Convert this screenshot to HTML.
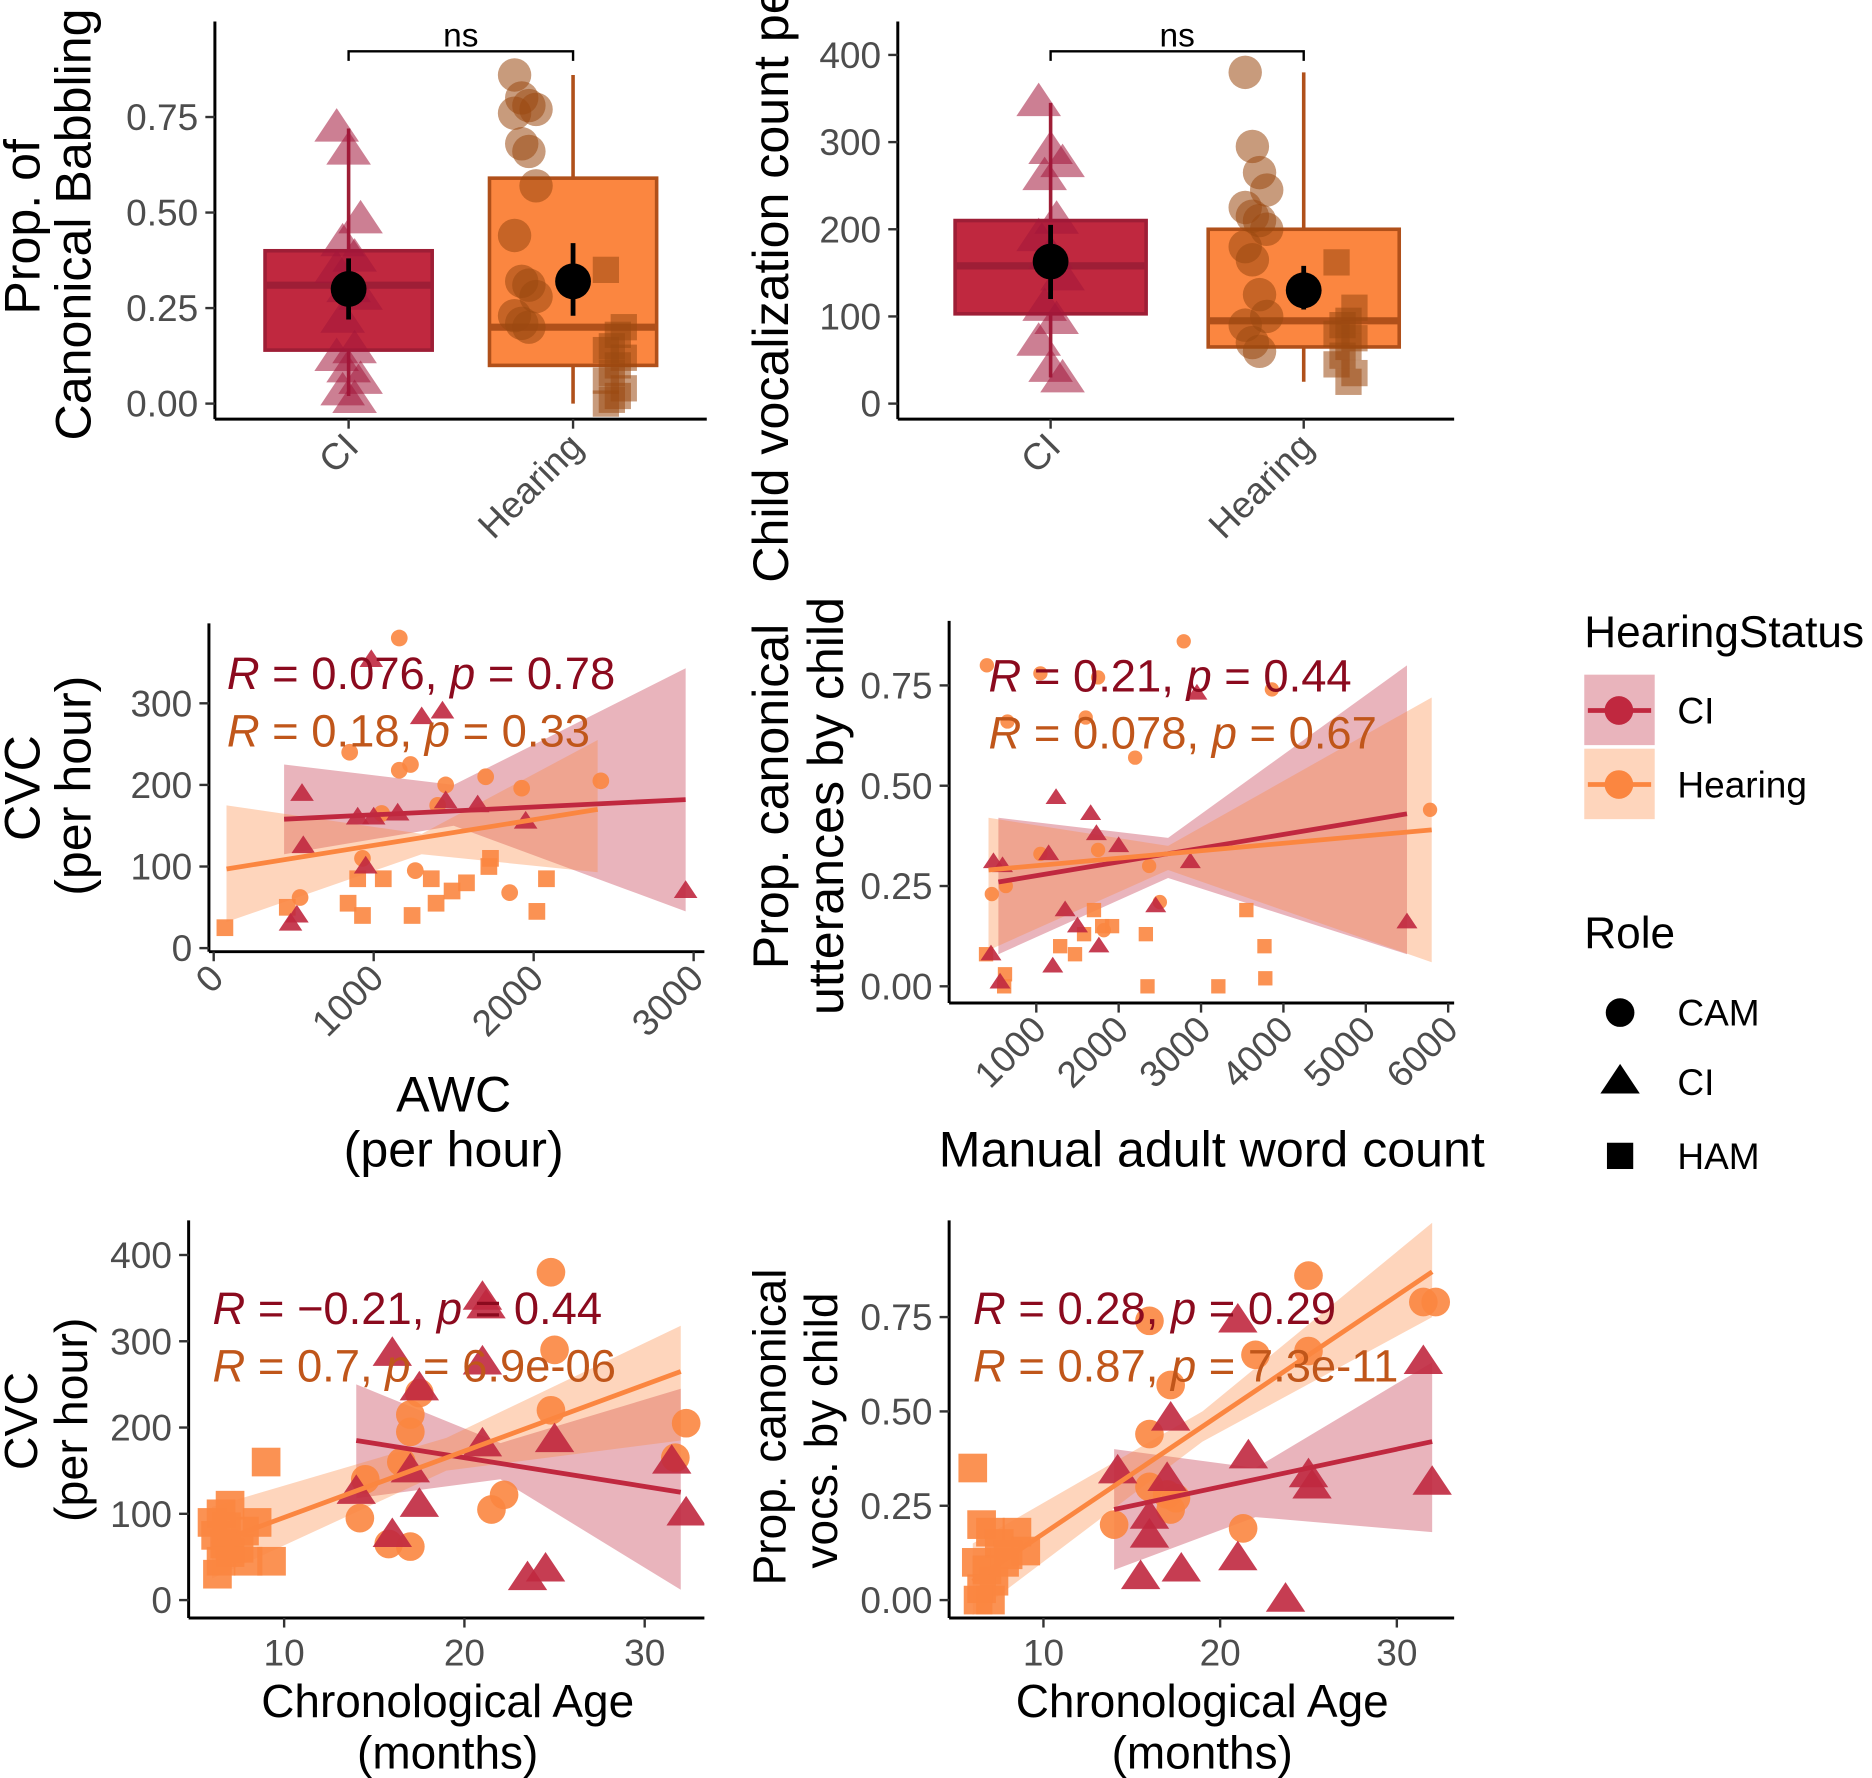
<!DOCTYPE html>
<html><head><meta charset="utf-8"><style>
html,body{margin:0;padding:0;background:#fff}
svg{display:block}
text{font-family:"Liberation Sans",Arial,sans-serif}
</style></head><body>
<svg id="s" width="1872" height="1778" viewBox="0 0 1568 1489" preserveAspectRatio="none" xmlns="http://www.w3.org/2000/svg"></svg>
<script>
// ---------- DATA ----------
const p1Cats=["CI","Hearing"];
const p1Ticks=[0,0.25,0.5,0.75];
const p1TickLabels=["0.00","0.25","0.50","0.75"];
const p1Box=[[0.02,0.14,0.31,0.40,0.72],[0.0,0.10,0.20,0.59,0.86]];
const p1Mean=[[0.30,0.22,0.38],[0.32,0.23,0.42]];
const p1CI=[0.72,0.66,0.48,0.42,0.38,0.35,0.30,0.28,0.22,0.14,0.12,0.09,0.06,0.03,0.01];
const p1CAM=[0.86,0.80,0.78,0.77,0.76,0.68,0.66,0.57,0.44,0.32,0.31,0.28,0.23,0.21,0.20];
const p1HAM=[0.35,0.20,0.18,0.15,0.14,0.12,0.10,0.08,0.06,0.04,0.02,0.01,0.0];
const p2Ticks=[0,100,200,300,400];
const p2Box=[[30,103,158,210,345],[25,65,95,200,380]];
const p2Mean=[[163,120,205],[130,108,158]];
const p2CI=[345,290,275,260,210,190,170,145,110,95,70,40,28];
const p2CAM=[380,295,265,245,225,215,210,200,180,165,125,100,90,70,60];
const p2HAM=[162,110,95,90,80,75,65,55,45,35,25];
const p3XTicks=[0,1000,2000,3000];
const p3YTicks=[0,100,200,300];
const p3CIx=[985,1300,1430,552,560,480,520,900,1000,1150,950,1450,1650,1950,2950];
const p3CIy=[353,283,290,189,125,30,40,160,160,165,100,180,175,155,70];
const p3CAMx=[1160,850,1230,1160,1050,1400,1450,1700,1925,2420,1260,540,1850,930];
const p3CAMy=[380,240,225,218,165,175,200,210,196,205,95,62,68,110];
const p3HAMx=[70,460,840,900,930,1060,1240,1390,1360,1490,1580,1720,1730,2020,2080];
const p3HAMy=[25,50,55,85,40,85,40,55,85,70,80,100,110,45,85];
const p3LineCI=[[440,158],[2950,182]];
const p3LineH=[[80,97],[2400,170]];
const p3RibCIx=[440,1500,2950];const p3RibCIlo=[115,150,45];const p3RibCIhi=[225,200,343];
const p3RibHx=[80,1300,2400];const p3RibHlo=[32,115,93];const p3RibHhi=[175,140,255];
const p4XTicks=[1000,2000,3000,4000,5000,6000];
const p4YTicks=[0,0.25,0.5,0.75];
const p4CIx=[2950,1240,1660,1730,480,590,2000,2450,2870,1150,450,560,1500,1200,1760,5500,1350];
const p4CIy=[0.73,0.47,0.43,0.38,0.31,0.30,0.35,0.20,0.31,0.33,0.08,0.01,0.15,0.05,0.10,0.16,0.19];
const p4CAMx=[400,1050,1750,2790,3860,650,1600,2200,5780,460,630,1050,1750,2370,2500,1820];
const p4CAMy=[0.80,0.78,0.77,0.86,0.74,0.66,0.67,0.57,0.44,0.23,0.25,0.33,0.34,0.30,0.21,0.14];
const p4HAMx=[390,610,620,1290,1470,1580,1700,1800,1920,2330,2350,3210,3550,3770,3780];
const p4HAMy=[0.08,0.0,0.03,0.10,0.08,0.13,0.19,0.15,0.15,0.13,0.0,0.0,0.19,0.10,0.02];
const p4LineCI=[[540,0.26],[5500,0.43]];
const p4LineH=[[420,0.29],[5800,0.39]];
const p4RibCIx=[540,2600,5500];const p4RibCIlo=[0.08,0.27,0.08];const p4RibCIhi=[0.42,0.37,0.80];
const p4RibHx=[420,2600,5800];const p4RibHlo=[0.09,0.29,0.06];const p4RibHhi=[0.42,0.35,0.72];
const p5XTicks=[10,20,30];
const p5YTicks=[0,100,200,300,400];
const p5CIx=[21,21.2,16,21,17.5,25,14,17,21,17.5,16,23.5,24.5,32.3,31.5];
const p5CIy=[350,340,285,275,245,185,125,150,180,110,75,25,35,100,160];
const p5CAMx=[24.8,25,24.8,17,17,16.5,14.5,14.2,15.8,17,21.5,22.2,31.7,32.3,17.5];
const p5CAMy=[380,290,220,215,195,160,140,95,65,62,105,122,165,205,240];
const p5HAMx=[9,9.3,8.5,7,6.5,6,6.2,6.7,7,6.5,6.3,7.5,8,7.8,6.8];
const p5HAMy=[160,45,90,110,100,90,75,65,55,45,30,60,45,80,85];
const p5LineCI=[[14,185],[32,125]];
const p5LineH=[[6,65],[32,265]];
const p5RibCIx=[14,22,32];const p5RibCIlo=[118,140,12];const p5RibCIhi=[250,182,245];
const p5RibHx=[6,19,32];const p5RibHlo=[25,150,185];const p5RibHhi=[108,188,318];
const p6XTicks=[10,20,30];
const p6YTicks=[0,0.25,0.5,0.75];
const p6CIx=[21,31.5,32,25,25.2,21.6,17.2,14.2,16,16,17.8,15.5,21,23.7,17];
const p6CIy=[0.74,0.63,0.31,0.33,0.30,0.38,0.48,0.34,0.22,0.17,0.08,0.06,0.11,0.0,0.32];
const p6CAMx=[25,31.5,32.2,22,25,17.2,16,17,17.2,16,14,21.3,17.5,16];
const p6CAMy=[0.86,0.79,0.79,0.65,0.66,0.57,0.44,0.28,0.24,0.30,0.20,0.19,0.27,0.74];
const p6HAMx=[6,6.5,7,7.5,8,6.2,6.8,7.2,6.5,7,8.5,9,6.3,7.8];
const p6HAMy=[0.35,0.20,0.18,0.15,0.12,0.10,0.08,0.05,0.03,0.0,0.18,0.13,0.0,0.10];
const p6LineCI=[[14,0.24],[32,0.42]];
const p6LineH=[[6,0.05],[32,0.87]];
const p6RibCIx=[14,22,32];const p6RibCIlo=[0.08,0.22,0.18];const p6RibCIhi=[0.40,0.35,0.63];
const p6RibHx=[6,19,32];const p6RibHlo=[-0.04,0.42,0.75];const p6RibHhi=[0.15,0.50,1.0];

// ---------- HELPERS ----------
const S=document.getElementById('s');const NS='http://www.w3.org/2000/svg';
function el(tag,attrs,parent,txt){const e=document.createElementNS(NS,tag);for(const k in attrs)e.setAttribute(k,attrs[k]);if(txt!==undefined)e.textContent=txt;(parent||S).appendChild(e);return e;}
function lin(d0,d1,r0,r1){return v=>r0+(v-d0)*(r1-r0)/(d1-d0);}
const RED='#c0283f',REDD='#9e1e36',ORG='#fb8640',ORGD='#b0501a';
const TRI='#a3153a',CIRC='#9a4810';
const TXT='#4d4d4d';
const TF=31, AF=42;
function tri(x,y,r,fill,op,g){return el('polygon',{points:`${x},${y-r} ${x-r*1.1},${y+r*0.65} ${x+r*1.1},${y+r*0.65}`,fill:fill,'fill-opacity':op},g);}
function circ(x,y,r,fill,op,g){return el('circle',{cx:x,cy:y,r:r,fill:fill,'fill-opacity':op},g);}
function sq(x,y,r,fill,op,g){return el('rect',{x:x-r,y:y-r,width:2*r,height:2*r,fill:fill,'fill-opacity':op},g);}
function yAxis(ax,y0,y1,ticks,labels,sy,g){
  el('line',{x1:ax,y1:y0,x2:ax,y2:y1,stroke:'#000','stroke-width':2.5},g);
  ticks.forEach((t,i)=>{const y=sy(t);el('line',{x1:ax-8,y1:y,x2:ax,y2:y,stroke:'#333','stroke-width':2},g);
    const tl=el('text',{x:ax-14,y:y+11,'text-anchor':'end','font-size':TF,fill:TXT},g,labels[i]);
    
    });
}
function xAxis(ay,x0,x1,ticks,labels,sx,g,rot){
  el('line',{x1:x0,y1:ay,x2:x1,y2:ay,stroke:'#000','stroke-width':2.5},g);
  ticks.forEach((t,i)=>{const x=sx(t);el('line',{x1:x,y1:ay,x2:x,y2:ay+8,stroke:'#333','stroke-width':2},g);
    let tl;
    if(rot) tl=el('text',{x:x+10,y:ay+24,'text-anchor':'end','font-size':TF,fill:TXT,transform:`rotate(-45 ${x+10} ${ay+24})`},g,labels[i]);
    else tl=el('text',{x:x,y:ay+40,'text-anchor':'middle','font-size':TF,fill:TXT},g,labels[i]);
    
    });
}
function vlabel(x,y,txt,name,g,fs){const t=el('text',{x:x,y:y,'text-anchor':'middle','font-size':fs||AF,fill:'#000',transform:`rotate(-90 ${x} ${y})`},g,txt);
  
  return t;}
function hlabel(x,y,txt,name,g,fs){const t=el('text',{x:x,y:y,'text-anchor':'middle','font-size':fs||AF,fill:'#000'},g,txt);
  
  return t;}

// ---------- BOX PANELS ----------
function boxPanel(cfg){
  const g=el('g',{});
  
  
  const sy=cfg.sy;
  const bx0=cfg.cx[0],bx1=cfg.cx[1];
  el('path',{d:`M${bx0} 51 V43 H${bx1} V51`,fill:'none',stroke:'#000','stroke-width':2},g);
  const ns=el('text',{x:(bx0+bx1)/2,y:39,'text-anchor':'middle','font-size':28},g,'ns');
  
  
  const fills=[RED,ORG],strokes=[REDD,ORGD];
  cfg.box.forEach((b,i)=>{
    const cx=cfg.cx[i],hw=cfg.hw;
    const w=el('line',{x1:cx,y1:sy(b[0]),x2:cx,y2:sy(b[4]),stroke:strokes[i],'stroke-width':3},g);
    
    
    const r=el('rect',{x:cx-hw,y:sy(b[3]),width:2*hw,height:sy(b[1])-sy(b[3]),fill:fills[i],stroke:strokes[i],'stroke-width':3},g);
    
    
    el('line',{x1:cx-hw,y1:sy(b[2]),x2:cx+hw,y2:sy(b[2]),stroke:strokes[i],'stroke-width':6},g);
  });
  const ci=cfg.cx[0];
  cfg.ciPts.forEach((v,i)=>{const t=tri(ci+((i*7)%5-2)*5,sy(v),17,TRI,0.55,g);
    
    });
  cfg.camPts.forEach((v,i)=>{const c=circ(cfg.cx[1]-40+((i*5)%4-1.5)*6,sy(v),14,CIRC,0.55,g);
    
    });
  cfg.hamPts.forEach((v,i)=>{const s=sq(cfg.cx[1]+35+((i*3)%4-1.5)*5,sy(v),11,CIRC,0.55,g);
    
    });
  cfg.mean.forEach((m,i)=>{const cx=cfg.cx[i];
    el('line',{x1:cx,y1:sy(m[1]),x2:cx,y2:sy(m[2]),stroke:'#000','stroke-width':4},g);
    const c=circ(cx,sy(m[0]),15,'#000',1,g);
    
    });
  yAxis(cfg.ax,18,351,cfg.ticks,cfg.tickLabels,sy,g);
  el('line',{x1:cfg.ax,y1:351,x2:cfg.axEnd,y2:351,stroke:'#000','stroke-width':2.5},g);
  cfg.cats.forEach((c,i)=>{const x=cfg.cx[i];el('line',{x1:x,y1:351,x2:x,y2:359,stroke:'#333','stroke-width':2},g);
    const t=el('text',{x:x+10,y:376,'text-anchor':'end','font-size':TF,fill:TXT,transform:`rotate(-45 ${x+10} 376)`},g,c);
    
    });
  return g;
}
const g1=boxPanel({name:'panel-canonical-babbling-box',cats:p1Cats,cx:[292,480],hw:70,ax:180,axEnd:592,sy:lin(0,0.75,338,98),
  box:p1Box,mean:p1Mean,ciPts:p1CI,camPts:p1CAM,hamPts:p1HAM,ticks:p1Ticks,tickLabels:p1TickLabels});
vlabel(33,190,'Prop. of','y-axis-title',g1);vlabel(76,188,'Canonical Babbling','y-axis-title',g1);
const g2=boxPanel({name:'panel-vocalization-count-box',cats:p1Cats,cx:[880,1092],hw:80,ax:752,axEnd:1218,sy:lin(0,400,338,46),
  box:p2Box,mean:p2Mean,ciPts:p2CI,camPts:p2CAM,hamPts:p2HAM,ticks:p2Ticks,tickLabels:p2Ticks.map(String)});
{const t=el('text',{x:660,y:488,'text-anchor':'start','font-size':AF,transform:'rotate(-90 660 488)'},g2,'Child vocalization count per hour');

}

// ---------- SCATTER PANELS ----------
function scatterPanel(c){
  const g=el('g',{});
  
  
  const sx=c.sx,sy=c.sy;
  const clip=el('clipPath',{id:'clip'+c.id},g);el('rect',{x:c.ax,y:c.top,width:c.axEnd-c.ax,height:c.ay-c.top},clip);
  const pg=el('g',{'clip-path':`url(#clip${c.id})`},g);
  function rib(xs,lo,hi,col,name){let d='M'+xs.map((x,i)=>sx(x)+' '+sy(hi[i])).join(' L');
    d+=' L'+xs.slice().reverse().map((x,i)=>sx(x)+' '+sy(lo[lo.length-1-i])).join(' L')+'Z';
    const p=el('path',{d:d,fill:col,'fill-opacity':0.35},pg);
    
    }
  rib(c.ribCIx,c.ribCIlo,c.ribCIhi,'#c0283f','ci-confidence-band');
  rib(c.ribHx,c.ribHlo,c.ribHhi,'#fb8640','hearing-confidence-band');
  const o=c.mk;
  c.hamX.forEach((x,i)=>{const s=sq(sx(x),sy(c.hamY[i]),o.s,ORG,0.9,pg);
    
    });
  c.camX.forEach((x,i)=>{const e=circ(sx(x),sy(c.camY[i]),o.c,ORG,0.9,pg);
    
    });
  c.ciX.forEach((x,i)=>{const t=tri(sx(x),sy(c.ciY[i]),o.t,RED,0.9,pg);
    
    });
  const l1=el('line',{x1:sx(c.lineCI[0][0]),y1:sy(c.lineCI[0][1]),x2:sx(c.lineCI[1][0]),y2:sy(c.lineCI[1][1]),stroke:RED,'stroke-width':4},pg);
  
  
  const l2=el('line',{x1:sx(c.lineH[0][0]),y1:sy(c.lineH[0][1]),x2:sx(c.lineH[1][0]),y2:sy(c.lineH[1][1]),stroke:ORG,'stroke-width':4},pg);
  
  
  [[c.r1,'#8b0a1e',c.ry],[c.r2,'#c0561a',c.ry+48]].forEach(([s,col,y],k)=>{
    const t=el('text',{x:c.rx,y:y,'font-size':38,fill:col},g);
    
    
    el('tspan',{'font-style':'italic'},t,'R');el('tspan',{},t,' = '+s[0]+', ');
    el('tspan',{'font-style':'italic'},t,'p');el('tspan',{},t,' = '+s[1]);});
  yAxis(c.ax,c.top,c.ay,c.yTicks,c.yLabels,sy,g);
  xAxis(c.ay,c.ax,c.axEnd,c.xTicks,c.xTicks.map(String),sx,g,c.rot);
  return g;
}
const g3=scatterPanel({id:3,name:'panel-awc-vs-cvc',ax:175,axEnd:590,ay:797,top:522,sx:lin(0,3000,179,581),sy:lin(0,300,794,589),
  xTicks:p3XTicks,yTicks:p3YTicks,yLabels:p3YTicks.map(String),rot:true,mk:{s:7,c:7,t:9},
  ciX:p3CIx,ciY:p3CIy,camX:p3CAMx,camY:p3CAMy,hamX:p3HAMx,hamY:p3HAMy,lineCI:p3LineCI,lineH:p3LineH,
  ribCIx:p3RibCIx,ribCIlo:p3RibCIlo,ribCIhi:p3RibCIhi,ribHx:p3RibHx,ribHlo:p3RibHlo,ribHhi:p3RibHhi,
  rx:190,ry:577,r1:['0.076','0.78'],r2:['0.18','0.33']});
vlabel(33,660,'CVC','y-axis-title',g3);vlabel(76,658,'(per hour)','y-axis-title',g3);
hlabel(380,931,'AWC','x-axis-title',g3);hlabel(380,977,'(per hour)','x-axis-title',g3);
const g4=scatterPanel({id:4,name:'panel-manual-awc-vs-prop',ax:795,axEnd:1218,ay:840,top:520,sx:lin(1000,6000,868,1213),sy:lin(0,0.75,826,574),
  xTicks:p4XTicks,yTicks:p4YTicks,yLabels:["0.00","0.25","0.50","0.75"],rot:true,mk:{s:6,c:6,t:8},
  ciX:p4CIx,ciY:p4CIy,camX:p4CAMx,camY:p4CAMy,hamX:p4HAMx,hamY:p4HAMy,lineCI:p4LineCI,lineH:p4LineH,
  ribCIx:p4RibCIx,ribCIlo:p4RibCIlo,ribCIhi:p4RibCIhi,ribHx:p4RibHx,ribHlo:p4RibHlo,ribHhi:p4RibHhi,
  rx:828,ry:579,r1:['0.21','0.44'],r2:['0.078','0.67']});
vlabel(660,667,'Prop. canonical','y-axis-title',g4);vlabel(706,675,'utterances by child','y-axis-title',g4);
hlabel(1015,977,'Manual adult word count','x-axis-title',g4);
const g5=scatterPanel({id:5,name:'panel-age-vs-cvc',ax:158,axEnd:590,ay:1355,top:1022,sx:lin(10,30,238,540),sy:lin(0,400,1340,1051),
  xTicks:p5XTicks,yTicks:p5YTicks,yLabels:p5YTicks.map(String),rot:false,mk:{s:12,c:12,t:15},
  ciX:p5CIx,ciY:p5CIy,camX:p5CAMx,camY:p5CAMy,hamX:p5HAMx,hamY:p5HAMy,lineCI:p5LineCI,lineH:p5LineH,
  ribCIx:p5RibCIx,ribCIlo:p5RibCIlo,ribCIhi:p5RibCIhi,ribHx:p5RibHx,ribHlo:p5RibHlo,ribHhi:p5RibHhi,
  rx:178,ry:1109,r1:['\u22120.21','0.44'],r2:['0.7','6.9e-06']});
vlabel(31,1190,'CVC','y-axis-title',g5,39);vlabel(73,1189,'(per hour)','y-axis-title',g5,39);
hlabel(375,1438,'Chronological Age','x-axis-title',g5,38.5);hlabel(375,1481,'(months)','x-axis-title',g5,38.5);
const g6=scatterPanel({id:6,name:'panel-age-vs-prop',ax:795,axEnd:1218,ay:1355,top:1022,sx:lin(10,30,874,1170),sy:lin(0,0.75,1340,1103),
  xTicks:p6XTicks,yTicks:p6YTicks,yLabels:["0.00","0.25","0.50","0.75"],rot:false,mk:{s:12,c:12,t:15},
  ciX:p6CIx,ciY:p6CIy,camX:p6CAMx,camY:p6CAMy,hamX:p6HAMx,hamY:p6HAMy,lineCI:p6LineCI,lineH:p6LineH,
  ribCIx:p6RibCIx,ribCIlo:p6RibCIlo,ribCIhi:p6RibCIhi,ribHx:p6RibHx,ribHlo:p6RibHlo,ribHhi:p6RibHhi,
  rx:815,ry:1109,r1:['0.28','0.29'],r2:['0.87','7.3e-11']});
vlabel(658,1195,'Prop. canonical','y-axis-title',g6,38.5);vlabel(701,1198,'vocs. by child','y-axis-title',g6,38.5);
hlabel(1007,1438,'Chronological Age','x-axis-title',g6,38.5);hlabel(1007,1481,'(months)','x-axis-title',g6,38.5);

// ---------- LEGEND ----------
const lg=el('g',{});


{const t=el('text',{x:1327,y:542,'font-size':37},lg,'HearingStatus');

}
[['CI',RED,565],['Hearing',ORG,627]].forEach(([n,c,y])=>{
  const e=el('g',{},lg);
  
  
  el('rect',{x:1327,y:y,width:59,height:59,fill:c,'fill-opacity':0.35},e);
  el('line',{x1:1330,y1:y+30,x2:1383,y2:y+30,stroke:c,'stroke-width':4},e);
  circ(1356,y+30,12,c,1,e);
  el('text',{x:1405,y:y+41,'font-size':31},e,n);
});
{const t=el('text',{x:1327,y:794,'font-size':37},lg,'Role');

}
[['CAM',848,'c'],['CI',906,'t'],['HAM',968,'s']].forEach(([n,y,k])=>{
  const e=el('g',{},lg);
  
  
  if(k=='c')circ(1357,y,12,'#000',1,e);else if(k=='t')tri(1357,y,15,'#000',1,e);else sq(1357,y,11,'#000',1,e);
  el('text',{x:1405,y:y+11,'font-size':31},e,n);
});
</script>
</body></html>
